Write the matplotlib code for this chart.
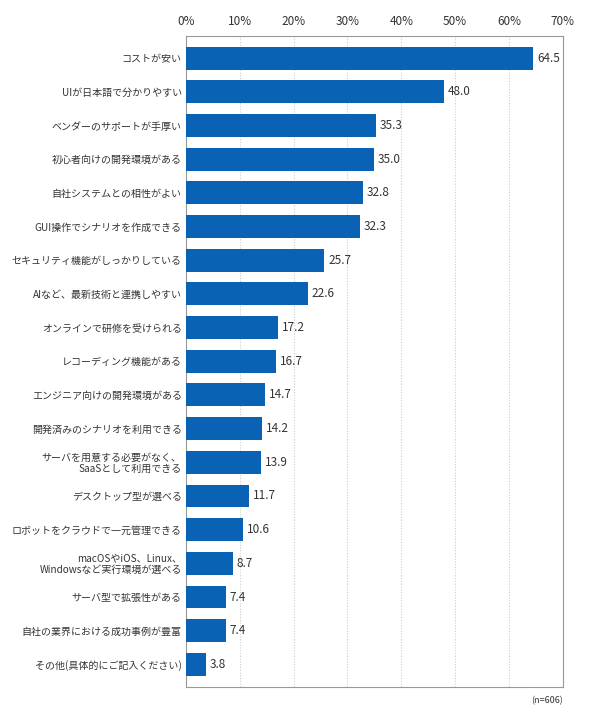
import matplotlib
matplotlib.use('Agg')
import matplotlib.pyplot as plt

plt.rcParams['font.family'] = ['Noto Sans CJK JP', 'DejaVu Sans']

labels = [
    'コストが安い',
    'UIが日本語で分かりやすい',
    'ベンダーのサポートが手厚い',
    '初心者向けの開発環境がある',
    '自社システムとの相性がよい',
    'GUI操作でシナリオを作成できる',
    'セキュリティ機能がしっかりしている',
    'AIなど、最新技術と連携しやすい',
    'オンラインで研修を受けられる',
    'レコーディング機能がある',
    'エンジニア向けの開発環境がある',
    '開発済みのシナリオを利用できる',
    'サーバを用意する必要がなく、\nSaaSとして利用できる',
    'デスクトップ型が選べる',
    'ロボットをクラウドで一元管理できる',
    'macOSやiOS、Linux、\nWindowsなど実行環境が選べる',
    'サーバ型で拡張性がある',
    '自社の業界における成功事例が豊富',
    'その他(具体的にご記入ください)',
]
values = [64.5, 48.0, 35.3, 35.0, 32.8, 32.3, 25.7, 22.6, 17.2, 16.7,
          14.7, 14.2, 13.9, 11.7, 10.6, 8.7, 7.4, 7.4, 3.8]
xticks = [0, 10, 20, 30, 40, 50, 60, 70]

bar_color = '#0a62b5'
text_color = '#333333'

fig = plt.figure(figsize=(5.9, 7.25), dpi=100)
ax = fig.add_axes([0.315, 0.052, 0.639, 0.898])

ypos = list(range(len(values)))
ax.barh(ypos, values, height=0.68, color=bar_color, zorder=3)
for y, v in zip(ypos, values):
    ax.text(v + 0.7, y, '%.1f' % v, va='center', ha='left',
            fontsize=8.5, color=text_color)

ax.set_xlim(0, 70)
ax.set_ylim(len(values) - 1 + 0.68, -0.65)
ax.set_yticks(ypos)
ax.set_yticklabels(labels, fontsize=7.2, color=text_color, linespacing=1.05)
ax.set_xticks(xticks)
ax.set_xticklabels(['%d%%' % t for t in xticks], fontsize=8.5, color=text_color)
ax.xaxis.tick_top()
ax.tick_params(axis='y', length=0, pad=3)
ax.tick_params(axis='x', length=0, pad=6)
ax.grid(axis='x', linestyle=(0, (1, 1.5)), color='#cccccc', linewidth=0.8, zorder=0)
for s in ax.spines.values():
    s.set_color('#999999')
    s.set_linewidth(0.8)

fig.text(0.954, 0.034, '(n=606)', ha='right', va='center', fontsize=6.5, color=text_color)

fig.savefig('out.png', dpi=100)
